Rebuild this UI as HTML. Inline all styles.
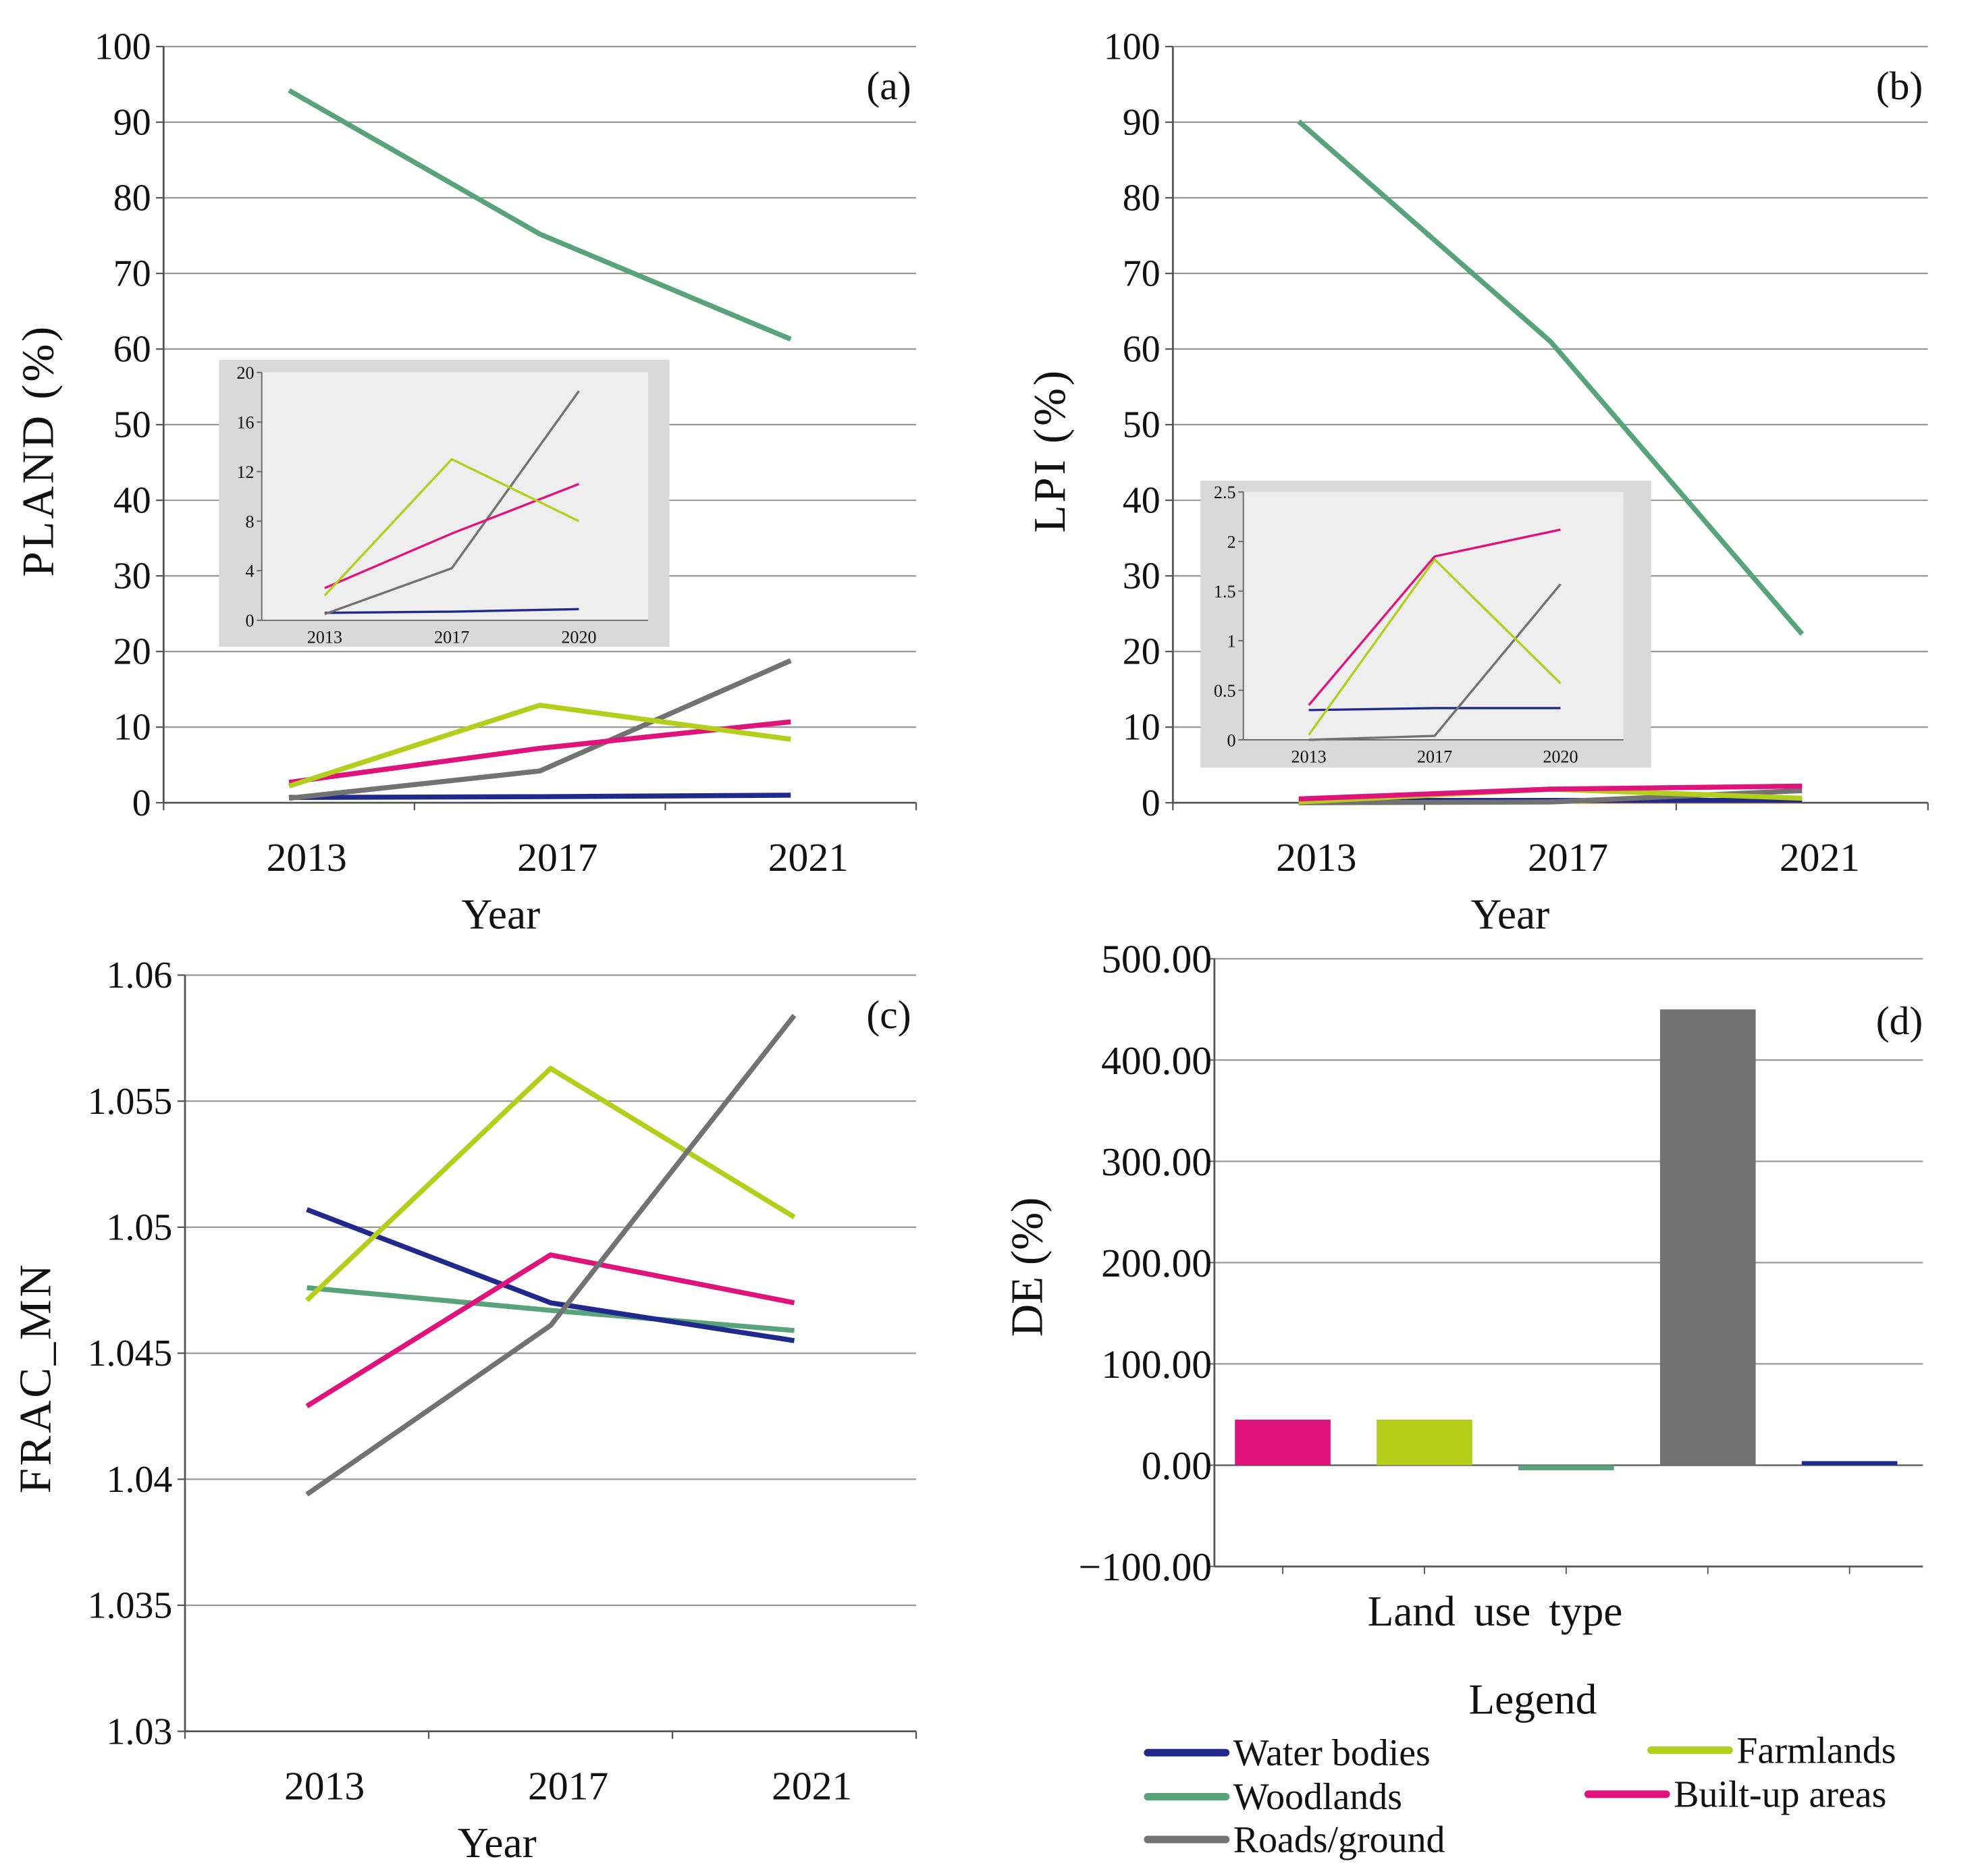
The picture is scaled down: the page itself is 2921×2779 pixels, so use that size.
<!DOCTYPE html>
<html><head><meta charset="utf-8"><style>
html,body{margin:0;padding:0;background:#fff}
svg{display:block}
text{font-family:"Liberation Serif",serif;fill:#111}
</style></head><body>
<svg id="s" width="2921" height="2779" viewBox="0 0 1567 1491" preserveAspectRatio="none" xmlns="http://www.w3.org/2000/svg"></svg>
<script>
const years=['2013','2017','2021'];
const insetYears=['2013','2017','2020'];
const colors={water:'#1f2a8c',wood:'#58a37a',farm:'#b3cf1c',built:'#e0137c',road:'#727272',orange:'#e8902a'};
// Panel a PLAND
const aWood=[94.2,75.2,61.3];
const aRoad=[0.6,4.2,18.8];
const aFarm=[2.2,12.9,8.4];
const aBuilt=[2.7,7.2,10.7];
const aWater=[0.7,0.8,1.0];
const aTicks=[0,10,20,30,40,50,60,70,80,90,100];
// inset a
const aiRoad=[0.5,4.2,18.5];
const aiFarm=[2,13,8];
const aiBuilt=[2.6,7,11];
const aiWater=[0.6,0.7,0.9];
const aiTicks=[0,4,8,12,16,20];
// Panel b LPI
const bWood=[90.1,61,22.3];
const bBuilt=[0.5,1.8,2.2];
const bFarm=[0.1,1.8,0.6];
const bRoad=[0,0.1,1.6];
const bWater=[0.3,0.3,0.3];
const bOrange=[0.1,0.2,0.2];
const bTicks=[0,10,20,30,40,50,60,70,80,90,100];
// inset b
const biBuilt=[0.35,1.85,2.12];
const biFarm=[0.05,1.82,0.57];
const biRoad=[0,0.04,1.57];
const biWater=[0.3,0.32,0.32];
const biTicks=[0,0.5,1,1.5,2,2.5];
const biTickLabels=['0','0.5','1','1.5','2','2.5'];
// Panel c FRAC_MN
const cWater=[1.0507,1.0470,1.0455];
const cWood=[1.0476,1.0467,1.0459];
const cFarm=[1.0471,1.0563,1.0504];
const cBuilt=[1.0429,1.0489,1.0470];
const cRoad=[1.0394,1.0461,1.0584];
const cTicks=[1.03,1.035,1.04,1.045,1.05,1.055,1.06];
const cTickLabels=['1.03','1.035','1.04','1.045','1.05','1.055','1.06'];
// Panel d DE
const dCats=['Built-up areas','Farmlands','Woodlands','Roads/ground','Water bodies'];
const dVals=[45,45,-5,450,4];
const dTicks=[-100,0,100,200,300,400,500];
const dTickLabels=['\u2212100.00','0.00','100.00','200.00','300.00','400.00','500.00'];

const S=document.getElementById('s');
const NS='http://www.w3.org/2000/svg';
function el(tag,attrs,parent,txt){const e=document.createElementNS(NS,tag);for(const k in attrs)e.setAttribute(k,attrs[k]);if(txt!==undefined)e.textContent=txt;(parent||S).appendChild(e);return e;}
function grp(name){const g=el('g',{});return g;}
function lin(d0,d1,r0,r1){return v=>r0+(v-d0)/(d1-d0)*(r1-r0);}
function series(g,xs,vals,y,color,w,name){
  const p=el('polyline',{points:vals.map((v,i)=>xs[i]+','+y(v)).join(' '),fill:'none',stroke:color,'stroke-width':w,'stroke-linejoin':'round'},g);
  
  
}

function linePanel(o){
  const g=grp(o.name);
  const y=lin(o.ticks[0],o.ticks[o.ticks.length-1],o.y0,o.y1);
  o.ticks.forEach((t,i)=>{
    el('line',{x1:o.x0,x2:o.x1,y1:y(t),y2:y(t),stroke:i==0?'#555':'#999','stroke-width':i==0?1.5:1.2},g);
    el('line',{x1:o.x0-6,x2:o.x0,y1:y(t),y2:y(t),stroke:'#555','stroke-width':1.2},g);
    const tl=el('text',{x:o.x0-10,y:y(t)+10,'text-anchor':'end','font-size':30},g,o.labels?o.labels[i]:String(t));
    
    
  });
  el('line',{x1:o.x0,x2:o.x0,y1:o.y1,y2:o.y0,stroke:'#555','stroke-width':1.5},g);
  const n=years.length,bw=(o.x1-o.x0)/n;
  const xs=years.map((_,i)=>o.x0+bw*(i+0.5));
  for(let i=0;i<=n;i++)el('line',{x1:o.x0+bw*i,x2:o.x0+bw*i,y1:o.y0,y2:o.y0+6,stroke:'#555','stroke-width':1.2},g);
  years.forEach((yr,i)=>{const t=el('text',{x:xs[i]+14,y:o.y0+54,'text-anchor':'middle','font-size':32},g,yr);});
  const xt=el('text',{x:o.xtx,y:o.y0+100,'text-anchor':'middle','font-size':34},g,'Year');
  
  const yt=el('text',{x:0,y:0,'text-anchor':'middle','font-size':36,'letter-spacing':2,transform:`translate(${o.ytx},${o.yty}) rotate(-90)`},g,o.ytitle);
  
  if(o.tag){const tg=el('text',{x:o.x1-4,y:o.y1+42,'text-anchor':'end','font-size':32},g,o.tag);}
  o.series.forEach(s=>series(g,xs,s[0],y,s[1],4,s[2]));
  return g;
}
function inset(o){
  const g=grp(o.name);
  el('rect',{x:o.bx,y:o.by,width:o.bw,height:o.bh,fill:'#d9d9d9'},g);
  el('rect',{x:o.x0,y:o.y1,width:o.x1-o.x0,height:o.y0-o.y1,fill:'#eeeeee'},g);
  const y=lin(o.ticks[0],o.ticks[o.ticks.length-1],o.y0,o.y1);
  el('line',{x1:o.x0,x2:o.x0,y1:o.y0,y2:o.y1,stroke:'#666','stroke-width':1},g);
  el('line',{x1:o.x0,x2:o.x1,y1:o.y0,y2:o.y0,stroke:'#666','stroke-width':1},g);
  o.ticks.forEach((t,i)=>{el('line',{x1:o.x0-4,x2:o.x0,y1:y(t),y2:y(t),stroke:'#666'},g);
    el('text',{x:o.x0-6,y:y(t)+5,'text-anchor':'end','font-size':14},g,o.labels?o.labels[i]:String(t));});
  const xs=insetYears.map((_,i)=>o.xc0+i*o.dx);
  insetYears.forEach((yr,i)=>el('text',{x:xs[i],y:o.y0+18,'text-anchor':'middle','font-size':14},g,yr));
  o.series.forEach(s=>series(g,xs,s[0],y,s[1],1.8,s[2]));
}

linePanel({name:'panel-a-pland',x0:130,x1:728,y0:638,y1:37,ticks:aTicks,ytitle:'PLAND (%)',ytx:42,yty:358,xtx:398,tag:'(a)',
 series:[[aWater,colors.water,'water-line'],[aRoad,colors.road,'roads-line'],[aBuilt,colors.built,'built-up-line'],[aFarm,colors.farm,'farmland-line'],[aWood,colors.wood,'woodland-line']]});
inset({name:'inset-a',bx:174,by:286,bw:358,bh:228,x0:208,x1:515,y0:493,y1:296,xc0:258,dx:101,ticks:aiTicks,
 series:[[aiWater,colors.water,'inset-a-water'],[aiRoad,colors.road,'inset-a-roads'],[aiBuilt,colors.built,'inset-a-built'],[aiFarm,colors.farm,'inset-a-farm']]});

linePanel({name:'panel-b-lpi',x0:932,x1:1532,y0:638,y1:37,ticks:bTicks,ytitle:'LPI (%)',ytx:846,yty:358,xtx:1200,tag:'(b)',
 series:[[bOrange,colors.orange,'orange-line'],[bWater,colors.water,'water-line'],[bRoad,colors.road,'roads-line'],[bFarm,colors.farm,'farmland-line'],[bBuilt,colors.built,'built-up-line'],[bWood,colors.wood,'woodland-line']]});
inset({name:'inset-b',bx:954,by:382,bw:358,bh:228,x0:988,x1:1290,y0:588,y1:391,xc0:1040,dx:100,ticks:biTicks,labels:biTickLabels,
 series:[[biWater,colors.water,'inset-b-water'],[biRoad,colors.road,'inset-b-roads'],[biFarm,colors.farm,'inset-b-farm'],[biBuilt,colors.built,'inset-b-built']]});

linePanel({name:'panel-c-frac',x0:147,x1:728,y0:1376,y1:775,ticks:cTicks,labels:cTickLabels,ytitle:'FRAC_MN',ytx:40,yty:1095,xtx:395,tag:'(c)',
 series:[[cWood,colors.wood,'woodland-line'],[cWater,colors.water,'water-line'],[cBuilt,colors.built,'built-up-line'],[cFarm,colors.farm,'farmland-line'],[cRoad,colors.road,'roads-line']]});

// Panel d
(function(){
  const g=grp('panel-d-de');
  const x0=965,x1=1528,y0=1245,y1=762;
  const y=lin(dTicks[0],dTicks[dTicks.length-1],y0,y1);
  dTicks.forEach((t,i)=>{
    if(i>0)el('line',{x1:x0,x2:x1,y1:y(t),y2:y(t),stroke:t==0?'#555':'#999','stroke-width':1.2},g);
    el('line',{x1:x0-6,x2:x0,y1:y(t),y2:y(t),stroke:'#555'},g);
    const tl=el('text',{x:x0-2,y:y(t)+11,'text-anchor':'end','font-size':32},g,dTickLabels[i]);
    
  });
  el('line',{x1:x0,x2:x0,y1:y0,y2:y1,stroke:'#555','stroke-width':1.5},g);
  el('line',{x1:x0,x2:x1,y1:y0,y2:y0,stroke:'#555','stroke-width':1.5},g);
  const bw=(x1-x0)/dCats.length;
  const cols=[colors.built,colors.farm,colors.wood,colors.road,colors.water];
  dCats.forEach((c,i)=>{
    const cx=x0+bw*(i+0.5)-2;
    el('line',{x1:cx,x2:cx,y1:y0,y2:y0+6,stroke:'#555'},g);
    const v=dVals[i],top=Math.min(y(v),y(0)),h=Math.max(Math.abs(y(v)-y(0)),3);
    const r=el('rect',{x:cx-38,y:v<0?y(0):top,width:76,height:h,fill:cols[i]},g);
    
    
  });
  const xt=el('text',{x:1188,y:1292,'text-anchor':'middle','font-size':34,'word-spacing':6},g,'Land  use type');
  
  const yt=el('text',{x:0,y:0,'text-anchor':'middle','font-size':36,transform:'translate(828,1007) rotate(-90)'},g,'DE (%)');
  
  const tg=el('text',{x:1528,y:822,'text-anchor':'end','font-size':32},g,'(d)');
  
})();

// Legend
(function(){
  const g=grp('legend');
  el('text',{x:1218,y:1362,'text-anchor':'middle','font-size':34},g,'Legend');
  const items=[['Water bodies',colors.water,912,1393,'start'],['Woodlands',colors.wood,912,1428,'start'],['Roads/ground',colors.road,912,1462,'start'],
               ['Farmlands',colors.farm,1312,1391,'start'],['Built-up areas',colors.built,1262,1426,'start']];
  items.forEach(it=>{
    const e=el('g',{},g);
    
    
    el('line',{x1:it[2],x2:it[2]+62,y1:it[3],y2:it[3],stroke:it[1],'stroke-width':6,'stroke-linecap':'round'},e);
    el('text',{x:it[2]+68,y:it[3]+10,'font-size':30},e,it[0]);
  });
})();
</script>
</body></html>
